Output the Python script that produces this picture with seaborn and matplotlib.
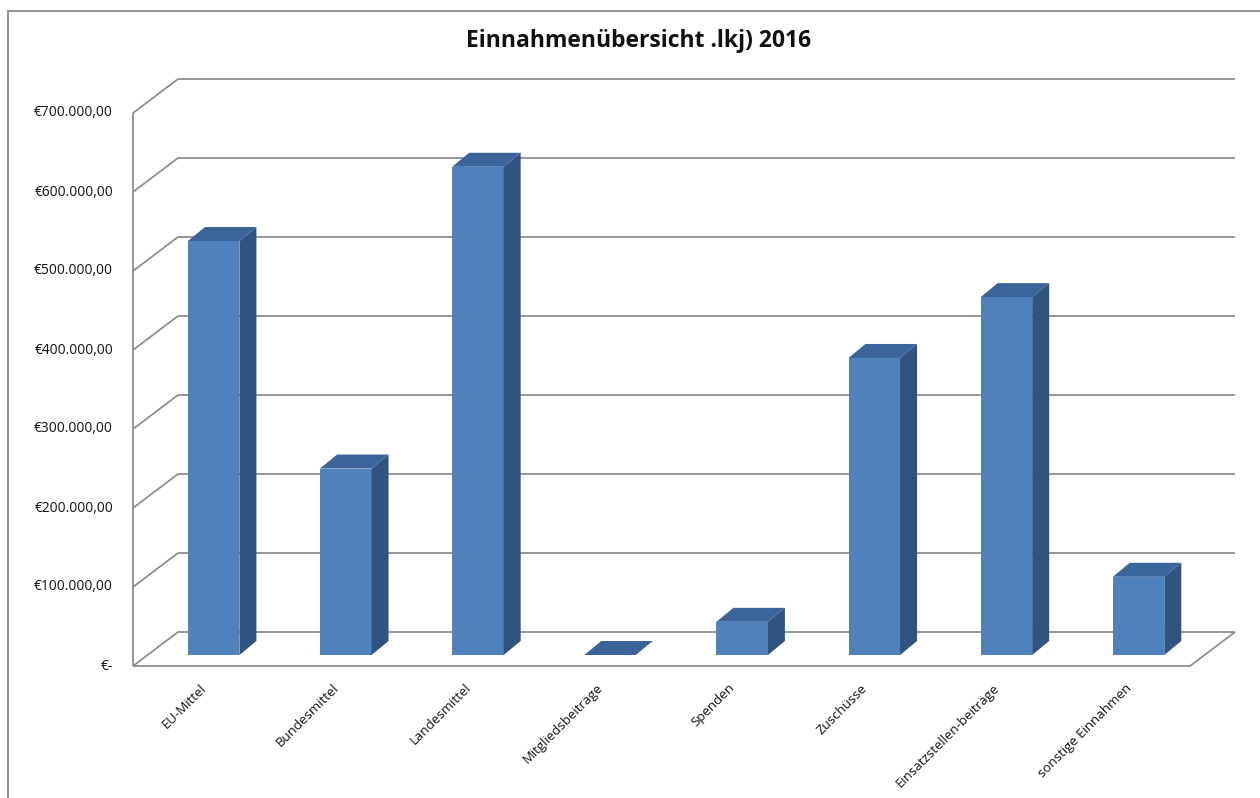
import numpy as np
import pandas as pd
import matplotlib
matplotlib.use("Agg")
import matplotlib.pyplot as plt
import matplotlib.transforms as mtrans
from matplotlib.lines import Line2D
from matplotlib.patches import Polygon, Rectangle
import seaborn as sns

# ---------------- data ----------------
categories = ["EU-Mittel", "Bundesmittel", "Landesmittel", "Mitgliedsbeiträge",
              "Spenden", "Zuschüsse", "Einsatzstellen-beiträge", "sonstige Einnahmen"]
values = [524000, 236000, 618000, 0, 42000, 376000, 453000, 99000]
y_ticks = [0, 100000, 200000, 300000, 400000, 500000, 600000, 700000]
title = "Einnahmenübersicht .lkj) 2016"

# ---------------- style ----------------
sns.set_style("white")
plt.rcParams["font.family"] = ["Open Sans", "DejaVu Sans"]

FRONT_C = "#4F81BD"
SIDE_C = "#31537F"
TOP_C = "#3B649A"
GRID_C = "#8E8E8E"

W_PX, H_PX = 1260, 798
fig = plt.figure(figsize=(W_PX / 100, H_PX / 100), dpi=100)

# plane of the bars' front faces (pixel geometry, y measured from top)
left_px, right_px = 147.6, 1204.6
zero_px, top_px = 655.0, 102.0
ax = fig.add_axes([left_px / W_PX, 1 - zero_px / H_PX,
                   (right_px - left_px) / W_PX, (zero_px - top_px) / H_PX])
ax.patch.set_visible(False)

df = pd.DataFrame({"cat": categories, "val": values})
sns.barplot(data=df, x="cat", y="val", color=FRONT_C, saturation=1,
            width=0.39, ax=ax, linewidth=0, zorder=3)
ax.set_xlim(-0.5, len(categories) - 0.5)
ax.set_ylim(y_ticks[0], y_ticks[-1])
ax.axis("off")

FRONT = np.array([-14.6, -11.0])   # front plane offset (display px, y up)
BACK = np.array([30.4, 23.0])      # back wall offset
DEPTH = np.array([17.0, 14.0])     # bar depth

toD = ax.transData.transform
ident = mtrans.IdentityTransform()

def line(p0, p1, z=-1, lw=1.3, c=GRID_C):
    fig.add_artist(Line2D([p0[0], p1[0]], [p0[1], p1[1]], transform=ident,
                          color=c, lw=lw, zorder=z, solid_capstyle="butt"))

xmin, xmax = ax.get_xlim()
for t in y_ticks:
    a = toD((xmin, t)); b = toD((xmax, t))
    line(a + BACK, b + BACK)           # back wall gridline
    line(a + FRONT, a + BACK)          # left wall diagonal
# front vertical axis
line(toD((xmin, y_ticks[0])) + FRONT, toD((xmin, y_ticks[-1])) + FRONT)
# floor
line(toD((xmin, 0)) + FRONT, toD((xmax, 0)) + FRONT)
line(toD((xmax, 0)) + FRONT, toD((xmax, 0)) + BACK)

# 3D sides and tops of the bars
for p in ax.patches:
    x0, y0 = p.get_x(), p.get_y()
    x1, y1 = x0 + p.get_width(), y0 + p.get_height()
    fl, fr = toD((x0, y1)), toD((x1, y1))
    br = toD((x1, y0))
    top = [fl, fr, fr + DEPTH, fl + DEPTH]
    side = [br, fr, fr + DEPTH, br + DEPTH]
    fig.add_artist(Polygon(side, closed=True, transform=ident, facecolor=SIDE_C,
                           edgecolor="none", zorder=2))
    fig.add_artist(Polygon(top, closed=True, transform=ident, facecolor=TOP_C,
                           edgecolor="none", zorder=2))

# y tick labels on the front plane
def fmt(v):
    if v == 0:
        return "€-"
    s = f"{v:,.2f}".replace(",", "X").replace(".", ",").replace("X", ".")
    return "€" + s

ylab_off = mtrans.ScaledTranslation((FRONT[0] - 20) / 100, FRONT[1] / 100, fig.dpi_scale_trans)
for t in y_ticks:
    ax.text(xmin, t, fmt(t), transform=ax.transData + ylab_off, ha="right",
            va="center", fontsize=9.9, color="#111111", clip_on=False)

# x tick labels
xlab_off = mtrans.ScaledTranslation(-9 / 100, -31 / 100, fig.dpi_scale_trans)
for i, c in enumerate(categories):
    ax.text(i, 0, c, transform=ax.transData + xlab_off, ha="right", va="center",
            rotation=45, rotation_mode="anchor", fontsize=9.5, color="#111111",
            clip_on=False)

# title
fig.text(639 / W_PX, 1 - 41 / H_PX, title, ha="center", va="center",
         fontsize=16.5, fontweight="bold", color="#111111")

# chart frame
fig.add_artist(Rectangle((8 / W_PX, -0.05), 1.2, 1 - 11 / H_PX + 0.05,
                         transform=fig.transFigure, fill=False,
                         edgecolor="#8a8a8a", lw=1.3, zorder=-2))

fig.savefig("out.png", dpi=100, facecolor="white")
